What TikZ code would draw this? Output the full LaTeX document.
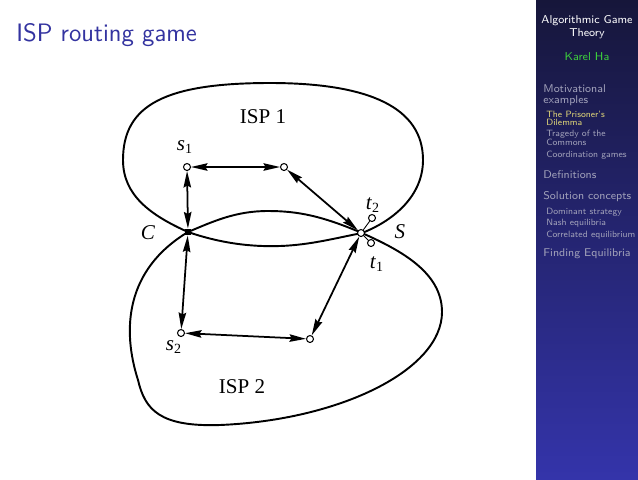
\documentclass[tikz,border=0pt]{standalone}
\usepackage{fontspec}
\newfontfamily\figfont{Liberation Serif}
\usepackage{tikz}
\usetikzlibrary{arrows.meta}
\definecolor{titleblue}{RGB}{51,51,160}
\definecolor{sidetop}{RGB}{22,22,58}
\definecolor{sidebot}{RGB}{52,52,170}
\definecolor{sidegray}{RGB}{160,160,185}
\definecolor{sideyellow}{RGB}{222,212,120}
\definecolor{sidegreen}{RGB}{60,205,60}
\tikzset{
  vertex/.style={circle, draw, fill=white, line width=0.6pt,
                 inner sep=0pt, minimum size=1.4mm},
  hub/.style={rectangle, fill=black, inner sep=0pt, minimum size=1.3mm},
  link/.style={{Stealth[length=3.3mm,width=1.5mm,inset=0.4mm]}-{Stealth[length=3.3mm,width=1.5mm,inset=0.4mm]},
               line width=1pt},
  border/.style={line width=1.1pt},
  figlabel/.style={font=\figfont\fontsize{12}{14}\selectfont, inner sep=0pt},
  navhead/.style={anchor=base, inner sep=0pt,
                  font=\sffamily\fontsize{6.5}{8}\selectfont},
  navsec/.style={anchor=base west, inner sep=0pt, text=sidegray,
                 font=\sffamily\fontsize{6.4}{8}\selectfont},
  navsub/.style={anchor=base west, inner sep=0pt, text=sidegray,
                 font=\sffamily\fontsize{5.2}{6}\selectfont},
}

\begin{document}
\begin{tikzpicture}[x=0.2006mm, y=-0.2006mm]
  \useasboundingbox (0,0) rectangle (638,479);
  \fill[white] (0,0) rectangle (638,479);

  % sidebar
  \shade[top color=sidetop, bottom color=sidebot] (536,0) rectangle (638,479);
  \node[navhead, text=white] (sbtitle) at (587,23) {Algorithmic Game};
  \node[navhead, text=white] (sbtitleb) at (587,36) {Theory};
  \node[navhead, text=sidegreen] (sbauthor) at (587,60) {Karel Ha};
  \node[navsec] (secmot) at (543,92) {Motivational};
  \node[navsec] (secmotb) at (543,103) {examples};
  \node[navsub, text=sideyellow] (subpd) at (546,117) {The Prisoner's};
  \node[navsub, text=sideyellow] (subpdb) at (546,125) {Dilemma};
  \node[navsub] (subtrag) at (546,136) {Tragedy of the};
  \node[navsub] (subtragb) at (546,145) {Commons};
  \node[navsub] (subcoord) at (546,157) {Coordination games};
  \node[navsec] (secdef) at (543,178) {Definitions};
  \node[navsec] (secsol) at (543,199) {Solution concepts};
  \node[navsub] (subdom) at (546,214) {Dominant strategy};
  \node[navsub] (subnash) at (546,225) {Nash equilibria};
  \node[navsub] (subcorr) at (546,237) {Correlated equilibrium};
  \node[navsec] (secfind) at (543,256) {Finding Equilibria};

  % frame title
  \node[anchor=base west, inner sep=0pt, text=titleblue,
        font=\sffamily\fontsize{14.4}{17}\selectfont] (title) at (16,41) {ISP routing game};

  % the two networks
  \draw[border] (188,232) .. controls (150,215) and (123,195) .. (123,160)
    .. controls (123,105) and (165,83) .. (270,83)
    .. controls (370,83) and (423,108) .. (423,160)
    .. controls (423,195) and (395,220) .. (362,233)
    .. controls (322,216) and (298,211) .. (268,211)
    .. controls (236,211) and (214,221) .. (188,232);
  \draw[border] (188,232) .. controls (220,243) and (250,247) .. (280,246)
    .. controls (310,245) and (336,238) .. (362,233)
    .. controls (400,250) and (442,272) .. (442,312)
    .. controls (442,370) and (340,420) .. (220,425)
    .. controls (160,427) and (145,410) .. (138,380)
    .. controls (122,330) and (125,270) .. (188,232);

  \node[figlabel] (isp1) at (263,117) {ISP 1};
  \node[figlabel] (isp2) at (242,387) {ISP 2};

  \node[vertex] (s1) at (187,167) {};
  \node[vertex] (m1) at (284,167) {};
  \node[hub]    (C)  at (188,232) {};
  \node[vertex] (S)  at (361,233) {};
  \node[vertex] (t2) at (372,218) {};
  \node[vertex] (t1) at (371,243) {};
  \node[vertex] (s2) at (181,333) {};
  \node[vertex] (m2) at (310,339) {};

  \node[figlabel] (s1lab) at (185,147) {\textit{s}\textsubscript{1}};
  \node[figlabel] (t2lab) at (373,205) {\textit{t}\textsubscript{2}};
  \node[figlabel] (t1lab) at (377,264) {\textit{t}\textsubscript{1}};
  \node[figlabel] (s2lab) at (174,347) {\textit{s}\textsubscript{2}};
  \node[figlabel] (Clab)  at (148,233) {\textit{C}};
  \node[figlabel] (Slab)  at (400,232) {\textit{S}};

  \draw[link] (s1) -- (m1);
  \draw[link] (m1) -- (S);
  \draw[link] (s1) -- (C);
  \draw[link] (C)  -- (s2);
  \draw[link] (s2) -- (m2);
  \draw[link] (m2) -- (S);
  \draw[line width=0.5pt] (S) -- (t2);
  \draw[line width=0.5pt] (S) -- (t1);
\end{tikzpicture}
\end{document}
